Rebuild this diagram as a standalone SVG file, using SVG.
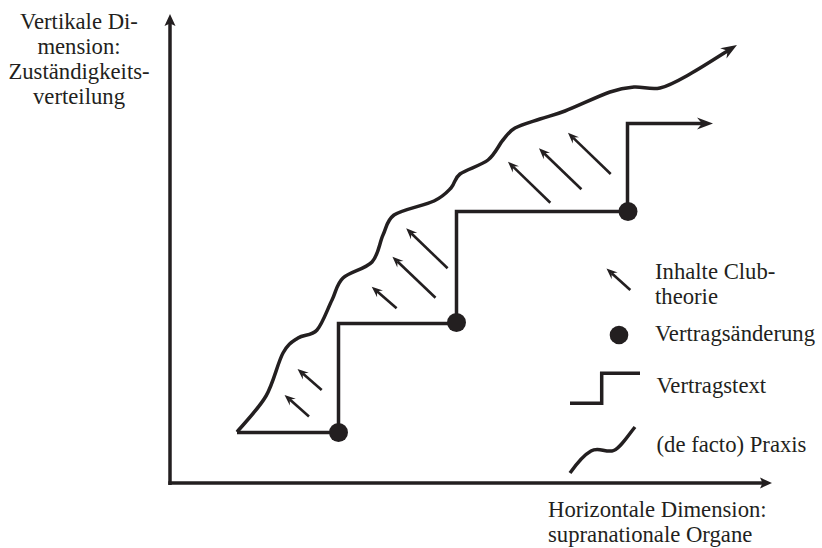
<svg xmlns="http://www.w3.org/2000/svg" width="822" height="548" viewBox="0 0 822 548">
<style>
  .ln { fill: none; stroke: #231f20; stroke-width: 3.5; stroke-linejoin: miter; stroke-linecap: butt; }
  .club { fill: none; stroke: #231f20; stroke-width: 2.6; }
  .dot { fill: #231f20; }
  .t { font-family: "Liberation Serif", "Times New Roman", serif; font-size: 22.7px; fill: #231f20; }
  .c { text-anchor: middle; }
</style>
<defs>
  <marker id="axhead" markerUnits="userSpaceOnUse" markerWidth="20" markerHeight="20" refX="0" refY="0" orient="auto" overflow="visible">
    <path d="M5,0 L-7,-5.5 L-4.5,0 L-7,5.5 Z" fill="#231f20"/>
  </marker>
  <marker id="bighead" markerUnits="userSpaceOnUse" markerWidth="24" markerHeight="24" refX="0" refY="0" orient="auto" overflow="visible">
    <path d="M7,0 L-9,-6 L-4,0 L-9,6 Z" fill="#231f20"/>
  </marker>
  <marker id="smallhead" markerUnits="userSpaceOnUse" markerWidth="16" markerHeight="16" refX="0" refY="0" orient="auto" overflow="visible">
    <path d="M7,0 L-4,-4.5 L0,0 L-4,4.5 Z" fill="#231f20"/>
  </marker>
</defs>

<g id="axes">
  <path class="ln" d="M170,485 V19" marker-end="url(#axhead)"/>
  <path class="ln" d="M168.3,483 H767" marker-end="url(#axhead)"/>
</g>

<g id="connectors">
  <path id="vertragstext" class="ln" d="M237,432.5 H338.5 V323.5 H456.5 V211.5 H627.5 V123.5 H706" marker-end="url(#bighead)"/>
  <path id="praxis" class="ln" d="M237,432 C241.83,426 258.33,409.17 266,396 C273.67,382.83 277.67,362.67 283,353 C288.33,343.33 292.33,341.83 298,338 C303.67,334.17 311.33,336.33 317,330 C322.67,323.67 327.67,308.67 332,300 C336.33,291.33 336.33,284.33 343,278 C349.67,271.67 365.33,269.17 372,262 C378.67,254.83 379.33,242.83 383,235 C386.67,227.17 386.5,220.67 394,215 C402.5,209.33 424.5,205.5 434,201 C443.5,196.5 446.67,192.5 451,188 C455.33,183.5 453.83,178.67 460,174 C466.17,169.33 480.83,165.67 488,160 C495.17,154.33 498.5,145.33 503,140 C507.5,134.67 508.83,131.5 515,128 C521.17,124.5 531.67,121.83 540,119 C548.33,116.17 553.33,115.5 565,111 C576.67,106.5 598.5,96 610,92 C621.5,88 625.67,87.67 634,87 C642.33,86.33 650.67,90.17 660,88 C669.33,85.83 677.17,81.17 690,74 C702.83,66.83 723.2,53.5 731,48.7" marker-end="url(#bighead)"/>
  <g id="club-arrows">
    <path class="club" d="M321.7,390 L302.8,373.6" marker-end="url(#smallhead)"/>
    <path class="club" d="M309,416.5 L289.8,399.6" marker-end="url(#smallhead)"/>
    <path class="club" d="M396.6,308.3 L377,291.3" marker-end="url(#smallhead)"/>
    <path class="club" d="M435.5,297.7 L397.5,261.5" marker-end="url(#smallhead)"/>
    <path class="club" d="M447.6,268.3 L411.2,233.2" marker-end="url(#smallhead)"/>
    <path class="club" d="M550.3,202.7 L513,166.6" marker-end="url(#smallhead)"/>
    <path class="club" d="M581.4,189.3 L544,153.2" marker-end="url(#smallhead)"/>
    <path class="club" d="M610.7,174 L573,137.6" marker-end="url(#smallhead)"/>
  </g>
</g>

<g id="dot1"><circle class="dot" cx="338.5" cy="432.5" r="9.5"/></g>
<g id="dot2"><circle class="dot" cx="456.5" cy="322.5" r="9.5"/></g>
<g id="dot3"><circle class="dot" cx="628" cy="211.5" r="9.5"/></g>

<g id="label-vertical">
  <text class="t c" x="79" y="29">Vertikale Di-</text>
  <text class="t c" x="79" y="54">mension:</text>
  <text class="t c" x="79" y="79">Zuständigkeits-</text>
  <text class="t c" x="79" y="104">verteilung</text>
</g>

<g id="label-horizontal">
  <text class="t" x="548" y="517">Horizontale Dimension:</text>
  <text class="t" x="548" y="542">supranationale Organe</text>
</g>

<g id="legend-club">
  <path class="club" d="M630.3,290 L611.7,273.2" marker-end="url(#smallhead)"/>
  <text class="t" x="655" y="278.5">Inhalte Club-</text>
  <text class="t" x="655" y="304">theorie</text>
</g>
<g id="legend-dot">
  <circle class="dot" cx="619" cy="335" r="9.3"/>
  <text class="t" x="655" y="341">Vertragsänderung</text>
</g>
<g id="legend-step">
  <path class="ln" d="M570,403.3 H601.7 V373.3 H640"/>
  <text class="t" x="656.5" y="393">Vertragstext</text>
</g>
<g id="legend-wave">
  <path class="ln" d="M570,473 C575,466 582,456 591,451 C598,447 604,452 612,451 C619,450 626,438 635,427"/>
  <text class="t" x="656.5" y="452">(de facto) Praxis</text>
</g>
</svg>
